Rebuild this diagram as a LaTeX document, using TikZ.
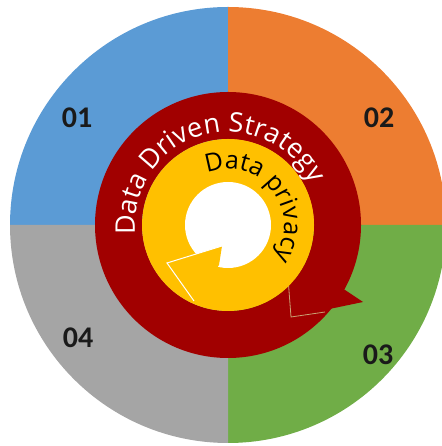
\documentclass[tikz,border=0pt]{standalone}
\usepackage{fontspec}
\setmainfont{Open Sans}
\newfontfamily\numfont{Carlito}
\usepackage{tikz}
\usetikzlibrary{calc,decorations.text}
\definecolor{pieblue}{HTML}{5B9BD5}
\definecolor{pieorange}{HTML}{ED7D31}
\definecolor{piegreen}{HTML}{70AD47}
\definecolor{piegray}{HTML}{A5A5A5}
\definecolor{ringred}{HTML}{A10000}
\definecolor{ringyellow}{HTML}{FFC000}
\definecolor{headline}{HTML}{C9A273}
\definecolor{numgray}{HTML}{1A1A1A}

\begin{document}
\begin{tikzpicture}[x=1pt, y=1pt,
    num/.style={font=\numfont\bfseries\fontsize{30}{30}\selectfont, text=numgray}]
          \useasboundingbox (0, 0) rectangle (441, 446);
          \coordinate (C) at (228, 221);
          \fill[pieblue] (C) -- ++(90:218) arc[start angle=90, end angle=180, radius=218] -- cycle;
          \fill[pieorange] (C) -- ++(0:218) arc[start angle=0, end angle=90, radius=218] -- cycle;
          \fill[piegreen] (C) -- ++(-90:218) arc[start angle=-90, end angle=0, radius=218] -- cycle;
          \fill[piegray] (C) -- ++(180:218) arc[start angle=180, end angle=270, radius=218] -- cycle;
          \node[num] (n1) at (77, 328) {01};
          \node[num] (n2) at (379, 328) {02};
          \node[num] (n3) at (378, 91) {03};
          \node[num] (n4) at (78, 108) {04};
          \fill[ringred, even odd rule] (C) circle[radius=133] (C) circle[radius=86];
          \coordinate (rh1) at (288, 168);
          \coordinate (rh2) at (291, 129);
          \coordinate (rh3) at (342, 158);
          \coordinate (rh4) at (325, 134);
          \coordinate (rtip) at (363, 144);
          \fill[ringred] (rh1) -- (rh2) -- (rtip) -- (rh3) -- cycle;
          \draw[headline, line width=0.8pt] (rh1) -- (rh2) -- (rh4);
          \fill[ringyellow] (C) circle[radius=86];
          \fill[white] (C) circle[radius=43];
          \coordinate (yh1) at (194, 145);
          \coordinate (yh2) at (167, 183);
          \coordinate (yh3) at (219, 181);
          \coordinate (ytip) at (222, 200);
          \fill[ringyellow] (yh1) -- (yh2) -- (ytip) -- (yh3) -- cycle;
          \draw[white, line width=1pt] (yh1) -- (yh2) -- (ytip);
          \path[decorate, decoration={text along path, text color=white, text align=left,
              text={|\fontsize{27}{27}\selectfont|Data Driven Strategy}}]
              ($(C) + (186:93)$) arc[start angle=186, end angle=10, radius=93];
          \path[decorate, decoration={text along path, text color=black, text align=left,
              text={|\fontsize{25}{25}\selectfont|Data privacy}}]
              ($(C) + (112:56)$) arc[start angle=112, end angle=-70, radius=56];
        \end{tikzpicture}
\end{document}
